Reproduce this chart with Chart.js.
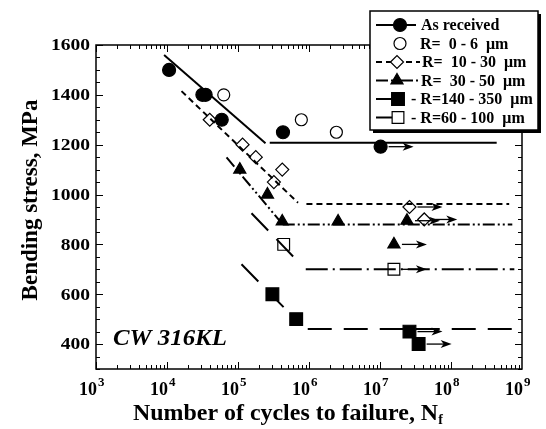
<!DOCTYPE html>
<html>
<head>
<meta charset="utf-8">
<script src="https://cdn.jsdelivr.net/npm/chart.js@4.4.0/dist/chart.umd.min.js"></script>
<style>
  html, body { margin: 0; padding: 0; background: #fff; }
</style>
</head>
<body>
<canvas id="myChart" width="546" height="429"></canvas>
<script>
// measured points (N cycles, stress MPa)
const asRecN = [1.07e4, 3.15e4, 3.5e4, 5.9e4, 4.3e5];
const asRecS = [1500, 1400, 1400, 1300, 1250];
const asRecRunN = [1.02e7];
const asRecRunS = [1192];

const r0N = [6.3e4, 7.8e5, 2.43e6];
const r0S = [1400, 1300, 1250];

const r10N = [4.0e4, 1.16e5, 1.78e5, 4.2e5, 3.2e5];
const r10S = [1300, 1200, 1150, 1100, 1050];
const r10RunN = [2.6e7, 4.2e7];
const r10RunS = [950, 900];

const r30N = [1.06e5, 2.6e5, 4.2e5, 2.57e6];
const r30S = [1100, 1000, 892, 892];
const r30RunN = [2.4e7, 1.57e7];
const r30RunS = [895, 800];

const r60N = [4.4e5];
const r60S = [800];
const r60RunN = [1.57e7];
const r60RunS = [700];

const r140N = [3.05e5, 6.6e5];
const r140S = [600, 500];
const r140RunN = [2.6e7, 3.5e7];
const r140RunS = [450, 400];

// fitted S-N lines: sloped part and endurance plateau
const asRecSlopeN = [9.1e3, 2.44e5], asRecSlopeS = [1560, 1206];
const asRecFlatN = [2.8e5, 4.4e8], asRecFlatS = [1208, 1208];
const r10SlopeN = [1.6e4, 7.0e5], r10SlopeS = [1415, 967];
const r10FlatN = [9.2e5, 6.6e8], r10FlatS = [962, 962];
const r30SlopeN = [6.9e4, 4.27e5], r30SlopeS = [1149, 880];
const r30FlatN = [4.27e5, 7.3e8], r30FlatS = [880, 880];
const r60SlopeN = [1.55e5, 7.4e5], r60SlopeS = [925, 724];
const r60FlatN = [9.0e5, 7.8e8], r60FlatS = [700, 700];
const r140SlopeN = [1.12e5, 6.65e5], r140SlopeS = [720, 496];
const r140FlatN = [9.6e5, 7.8e8], r140FlatS = [460, 460];

const yTicks = [400, 600, 800, 1000, 1200, 1400, 1600];
const xExps = [3, 4, 5, 6, 7, 8, 9];
const legendLabels = ['As received', 'R=  0 - 6  \u03bcm', 'R=  10 - 30  \u03bcm', 'R=  30 - 50  \u03bcm', '- R=140 - 350  \u03bcm', '- R=60 - 100  \u03bcm'];

const SERIF = '"Liberation Serif", "Times New Roman", serif';
const dashShort = [6, 4];
const dashDotDot = [12, 3, 2, 3, 2, 3];
const dashLongDot = [22, 5, 2, 5];
const dashLong = [24, 12];

function pts(n, s) {
    return n.map((v, i) => ({ x: v, y: s[i] }));
}

function fitLine(n, s, dash) {
    return {
        data: pts(n, s),
        showLine: true,
        borderColor: '#000',
        borderWidth: 2,
        borderDash: dash,
        pointRadius: 0,
        fill: false
    };
}

function marks(n, s, style, radius, filled) {
    return {
        data: pts(n, s),
        showLine: false,
        pointStyle: style,
        pointRadius: radius,
        pointBackgroundColor: filled ? '#000' : '#fff',
        pointBorderColor: '#000',
        pointBorderWidth: 1.2
    };
}

const datasets = [
    fitLine(asRecSlopeN, asRecSlopeS, []),
    fitLine(asRecFlatN, asRecFlatS, []),
    fitLine(r10SlopeN, r10SlopeS, dashShort),
    fitLine(r10FlatN, r10FlatS, dashShort),
    fitLine(r30SlopeN, r30SlopeS, dashDotDot),
    fitLine(r30FlatN, r30FlatS, dashDotDot),
    fitLine(r60SlopeN, r60SlopeS, dashLong),
    fitLine(r60FlatN, r60FlatS, dashLongDot),
    fitLine(r140SlopeN, r140SlopeS, dashLong),
    fitLine(r140FlatN, r140FlatS, dashLong),
    marks(asRecN.concat(asRecRunN), asRecS.concat(asRecRunS), 'circle', 6.5, true),
    marks(r0N, r0S, 'circle', 6, false),
    marks(r10N.concat(r10RunN), r10S.concat(r10RunS), 'rectRot', 6.5, false),
    marks(r30N.concat(r30RunN), r30S.concat(r30RunS), 'triangle', 7, true),
    marks(r60N.concat(r60RunN), r60S.concat(r60RunS), 'rect', 8.3, false),
    marks(r140N.concat(r140RunN), r140S.concat(r140RunS), 'rect', 9, true)
];

const runouts = [
    [asRecRunN, asRecRunS], [r10RunN, r10RunS], [r30RunN, r30RunS],
    [r60RunN, r60RunS], [r140RunN, r140RunS]
];

function arrow(ctx, x, y) {
    ctx.beginPath();
    ctx.moveTo(x + 8, y);
    ctx.lineTo(x + 28, y);
    ctx.stroke();
    ctx.beginPath();
    ctx.moveTo(x + 33, y);
    ctx.lineTo(x + 22, y - 4);
    ctx.lineTo(x + 25, y);
    ctx.lineTo(x + 22, y + 4);
    ctx.closePath();
    ctx.fill();
}

// text with a horizontal stretch, the source figure is a bit wide
function wideText(ctx, str, x, y, sx) {
    ctx.save();
    ctx.translate(x, y);
    ctx.scale(sx, 1);
    ctx.fillText(str, 0, 0);
    const w = ctx.measureText(str).width * sx;
    ctx.restore();
    return w;
}

const decorations = {
    id: 'decorations',
    afterDatasetsDraw(chart) {
        const ctx = chart.ctx;
        const xs = chart.scales.x, ys = chart.scales.y;
        ctx.save();
        ctx.strokeStyle = '#000';
        ctx.fillStyle = '#000';
        ctx.lineWidth = 1.3;
        runouts.forEach(([n, s]) => {
            n.forEach((v, i) => arrow(ctx, xs.getPixelForValue(v), ys.getPixelForValue(s[i])));
        });
        ctx.restore();
    },
    afterDraw(chart) {
        const ctx = chart.ctx;
        const a = chart.chartArea;
        const xs = chart.scales.x, ys = chart.scales.y;
        ctx.save();
        ctx.strokeStyle = '#000';
        ctx.fillStyle = '#000';
        ctx.lineWidth = 1.5;
        ctx.strokeRect(a.left, a.top, a.right - a.left, a.bottom - a.top);

        // y ticks on left and right
        ctx.lineWidth = 1;
        ctx.beginPath();
        for (let v = 300; v <= 1600; v += 50) {
            const y = Math.round(ys.getPixelForValue(v)) + 0.5;
            const len = v % 200 === 0 ? 7 : 4;
            ctx.moveTo(a.left, y); ctx.lineTo(a.left + len, y);
            ctx.moveTo(a.right, y); ctx.lineTo(a.right - len, y);
        }
        // x ticks on bottom and top
        for (let e = 3; e < 9; e++) {
            for (let m = 1; m < 10; m++) {
                const x = Math.round(xs.getPixelForValue(m * Math.pow(10, e))) + 0.5;
                const len = m === 1 ? 7 : 4;
                ctx.moveTo(x, a.bottom); ctx.lineTo(x, a.bottom - len);
                ctx.moveTo(x, a.top); ctx.lineTo(x, a.top + len);
            }
        }
        ctx.stroke();

        // y tick labels
        ctx.font = 'bold 17px ' + SERIF;
        ctx.textAlign = 'right';
        ctx.textBaseline = 'middle';
        yTicks.forEach(v => wideText(ctx, String(v), 90, ys.getPixelForValue(v) + 1, 1.15));

        // x tick labels 10^n
        ctx.textBaseline = 'alphabetic';
        xExps.forEach(e => {
            const x = xs.getPixelForValue(Math.pow(10, e));
            ctx.font = 'bold 18px ' + SERIF;
            ctx.textAlign = 'right';
            ctx.fillText('10', x + 1, 395);
            ctx.font = 'bold 13px ' + SERIF;
            ctx.textAlign = 'left';
            ctx.fillText(String(e), x + 2, 386);
        });

        // axis titles
        ctx.font = 'bold 23px ' + SERIF;
        ctx.textAlign = 'left';
        const w = wideText(ctx, 'Number of cycles to failure, N', 133, 420, 1.04);
        ctx.font = 'bold 14px ' + SERIF;
        ctx.fillText('f', 133 + w, 424);

        ctx.save();
        ctx.translate(31, 200);
        ctx.rotate(-Math.PI / 2);
        ctx.font = 'bold 23px ' + SERIF;
        ctx.textAlign = 'center';
        ctx.textBaseline = 'middle';
        ctx.fillText('Bending stress, MPa', 0, 0);
        ctx.restore();

        ctx.font = 'bold italic 23px ' + SERIF;
        ctx.textAlign = 'left';
        wideText(ctx, 'CW 316KL', 113, 345, 1.08);

        // legend box with shadow
        const bx = 370, by = 11, bw = 168, bh = 119;
        ctx.fillStyle = '#000';
        ctx.fillRect(bx + 3, by + 3, bw, bh);
        ctx.fillStyle = '#fff';
        ctx.fillRect(bx, by, bw, bh);
        ctx.lineWidth = 1.5;
        ctx.strokeRect(bx, by, bw, bh);

        const rowY = [25, 43.5, 62, 80.5, 99, 117.5];
        const textX = [421, 420, 422, 421, 411, 411];
        const draw = Chart.helpers.drawPoint;
        ctx.strokeStyle = '#000';
        ctx.lineWidth = 2;
        const seg = (x0, x1, y, dash) => {
            ctx.setLineDash(dash);
            ctx.beginPath(); ctx.moveTo(x0, y); ctx.lineTo(x1, y); ctx.stroke();
            ctx.setLineDash([]);
        };
        seg(376, 416, rowY[0], []);
        seg(376, 420, rowY[2], dashShort);
        seg(376, 418, rowY[3], dashDotDot);
        seg(376, 394, rowY[4], []);
        seg(376, 396, rowY[5], []);

        const legMarks = [
            ['circle', 6.5, true, 400], ['circle', 6, false, 400], ['rectRot', 6.5, false, 397],
            ['triangle', 7, true, 397], ['rect', 9, true, 398], ['rect', 8.3, false, 398]
        ];
        ctx.lineWidth = 1.2;
        legMarks.forEach(([st, r, filled, x], i) => {
            ctx.fillStyle = filled ? '#000' : '#fff';
            draw(ctx, { pointStyle: st, radius: r, borderWidth: 1.2 }, x, rowY[i]);
        });

        ctx.fillStyle = '#000';
        ctx.font = 'bold 16px ' + SERIF;
        ctx.textAlign = 'left';
        ctx.textBaseline = 'middle';
        legendLabels.forEach((t, i) => ctx.fillText(t, textX[i], rowY[i] + 1));
        ctx.restore();
    }
};

const ctx = document.getElementById('myChart').getContext('2d');
const myChart = new Chart(ctx, {
    type: 'scatter',
    data: { datasets: datasets },
    options: {
        responsive: false,
        animation: false,
        layout: { padding: { left: 96, right: 24, top: 45, bottom: 60 } },
        plugins: { legend: { display: false }, tooltip: { enabled: false } },
        scales: {
            x: { type: 'logarithmic', min: 1e3, max: 1e9, display: false },
            y: { type: 'linear', min: 300, max: 1600, display: false }
        }
    },
    plugins: [decorations]
});
</script>
</body>
</html>
